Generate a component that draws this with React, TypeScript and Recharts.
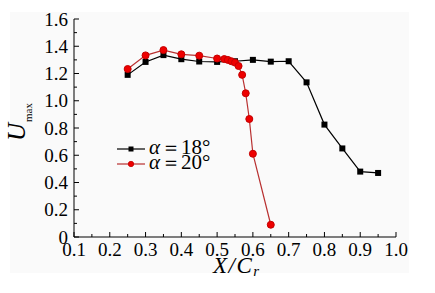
import React from 'react';
import { LineChart, Line, XAxis, YAxis, Customized } from 'recharts';

const x18 = [0.25, 0.3, 0.35, 0.4, 0.45, 0.5, 0.55, 0.6, 0.65, 0.7, 0.75, 0.8, 0.85, 0.9, 0.95];
const u18 = [1.19, 1.285, 1.335, 1.305, 1.288, 1.285, 1.29, 1.30, 1.287, 1.29, 1.135, 0.825, 0.65, 0.48, 0.47];

const x20 = [0.25, 0.3, 0.35, 0.4, 0.45, 0.5, 0.52, 0.53, 0.54, 0.55, 0.56, 0.57, 0.58, 0.59, 0.6, 0.65];
const u20 = [1.233, 1.333, 1.372, 1.341, 1.331, 1.31, 1.306, 1.30, 1.29, 1.28, 1.255, 1.19, 1.055, 0.866, 0.611, 0.09];

const xTicks = [0.1, 0.15, 0.2, 0.25, 0.3, 0.35, 0.4, 0.45, 0.5, 0.55, 0.6, 0.65, 0.7, 0.75, 0.8, 0.85, 0.9, 0.95, 1.0];
const xLabels = ['0.1', '', '0.2', '', '0.3', '', '0.4', '', '0.5', '', '0.6', '', '0.7', '', '0.8', '', '0.9', '', '1.0'];
const yTicks = [0, 0.1, 0.2, 0.3, 0.4, 0.5, 0.6, 0.7, 0.8, 0.9, 1.0, 1.1, 1.2, 1.3, 1.4, 1.5, 1.6];
const yLabels = ['0', '', '0.2', '', '0.4', '', '0.6', '', '0.8', '', '1.0', '', '1.2', '', '1.4', '', '1.6'];

const legendSymbol = 'α';
const legendEq = '＝';
const legendValues = ['18°', '20°'];

const data18 = x18.map((x, i) => ({ x, u: u18[i] }));
const data20 = x20.map((x, i) => ({ x, u: u20[i] }));

const FONT = 'Liberation Serif, Times New Roman, serif';
const FS = { fontFamily: FONT };
const RED_LINE = '#b83030';
const RED_FILL = '#ee0000';
const RED_STROKE = '#c40000';

const XTick = (props: any) => {
  const { x, y, index } = props;
  const label = xLabels[index];
  const major = label !== '';
  return (
    <g>
      <line x1={x} x2={x} y1={y} y2={y - (major ? 5 : 3)} stroke="#000" strokeWidth={1} />
      {major && (
        <text x={x} y={y + 19} textAnchor="middle" style={FS} fontSize={19} fill="#000">
          {label}
        </text>
      )}
    </g>
  );
};

const YTick = (props: any) => {
  const { x, y, index } = props;
  const label = yLabels[index];
  const major = label !== '';
  return (
    <g>
      <line x1={x} x2={x + (major ? 5 : 3)} y1={y} y2={y} stroke="#000" strokeWidth={1} />
      {major && (
        <text x={x - 6} y={y + 6.5} textAnchor="end" style={FS} fontSize={19} fill="#000">
          {label}
        </text>
      )}
    </g>
  );
};

const Square = (props: any) => {
  const { cx, cy } = props;
  if (cx == null || cy == null) return null;
  return <rect x={cx - 3} y={cy - 3} width={6} height={6} fill="#000" />;
};

const LegendRow = ({ y, color, marker, value }: any) => (
  <g>
    <line x1={117} x2={145} y1={y} y2={y} stroke={color} strokeWidth={1.2} />
    {marker === 'square' ? (
      <rect x={128.5} y={y - 2.5} width={5} height={5} fill="#000" />
    ) : (
      <circle cx={131} cy={y} r={2.7} fill={RED_FILL} stroke={RED_STROKE} strokeWidth={0.8} />
    )}
    <text x={149} y={y + 5} fontSize={21} style={FS} fill="#000">
      <tspan fontStyle="italic">{legendSymbol}</tspan>
      <tspan fontSize={20} dx={1}>{legendEq}</tspan>
      <tspan dx={0}>{value}</tspan>
    </text>
  </g>
);

const Overlay = () => (
  <g style={FS} fill="#000">
    <text transform="translate(25,141) rotate(-90)" fontSize={25} fontStyle="italic" style={FS}>
      U
      <tspan fontSize={11} fontStyle="normal" dy={7} dx={1}>max</tspan>
    </text>
    <text x={213} y={273} fontSize={23} fontStyle="italic" style={FS} letterSpacing={1.5}>
      X/C
      <tspan fontSize={15} dy={3}>r</tspan>
    </text>
    <LegendRow y={149} color="#000" marker="square" value={legendValues[0]} />
    <LegendRow y={164} color={RED_LINE} marker="circle" value={legendValues[1]} />
  </g>
);

export default function App() {
  return (
    <div style={{ position: 'absolute', left: 0, top: 0, width: 435, height: 293, background: '#fff' }}>
      <div style={{ position: 'absolute', left: 10, top: 12, width: 399, height: 261, background: '#fafafa' }} />
      <div style={{ position: 'absolute', left: 0, top: 0 }}>
        <LineChart width={435} height={293} margin={{ top: 19, right: 39, left: 0, bottom: 0 }}>
          <XAxis
            type="number"
            dataKey="x"
            domain={[0.1, 1.0]}
            ticks={xTicks}
            interval={0}
            height={56}
            tickSize={0}
            tickMargin={0}
            tickLine={false}
            axisLine={{ stroke: '#000', strokeWidth: 1 }}
            tick={<XTick />}
            allowDataOverflow
          />
          <YAxis
            type="number"
            dataKey="u"
            domain={[0, 1.6]}
            ticks={yTicks}
            interval={0}
            width={74}
            tickSize={0}
            tickMargin={0}
            tickLine={false}
            axisLine={{ stroke: '#000', strokeWidth: 1 }}
            tick={<YTick />}
            allowDataOverflow
          />
          <Line
            data={data18}
            dataKey="u"
            name="18"
            stroke="#000"
            strokeWidth={1.2}
            dot={<Square />}
            isAnimationActive={false}
          />
          <Line
            data={data20}
            dataKey="u"
            name="20"
            stroke={RED_LINE}
            strokeWidth={1.2}
            dot={{ r: 3.5, fill: RED_FILL, stroke: RED_STROKE, strokeWidth: 1 }}
            isAnimationActive={false}
          />
          <Customized component={<Overlay />} />
        </LineChart>
      </div>
    </div>
  );
}
